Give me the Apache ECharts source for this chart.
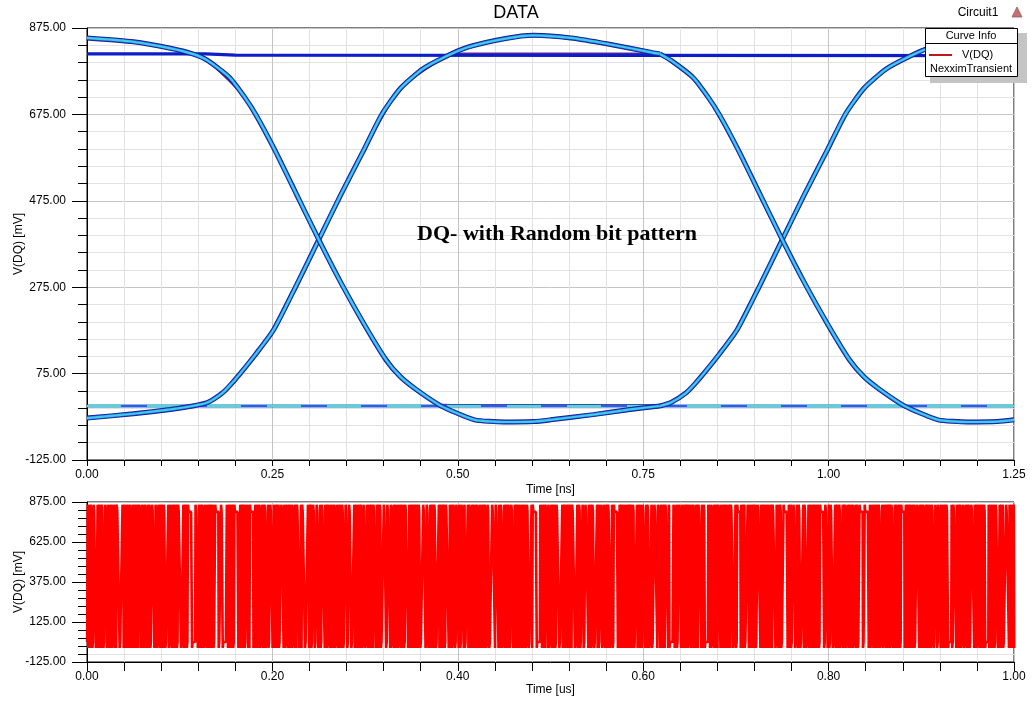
<!DOCTYPE html>
<html>
<head>
<meta charset="utf-8">
<script src="https://cdn.jsdelivr.net/npm/echarts@6/dist/echarts.min.js"></script>
<style>
html,body{margin:0;padding:0;background:#fff;}
#chart{width:1036px;height:703px;}
</style>
</head>
<body>
<div id="chart"></div>
<script>
// ---------------- DATA ----------------
// Eye diagram traces: [time ns, V(DQ) mV]
const highFlat = [[0, 815], [0.16, 815], [0.2, 812], [1.25, 811]];
const lowFlat = [[0, 0], [1.25, 0]];
const rise1 = [[0, -28], [0.0625, -18], [0.1125, -8], [0.1425, 0], [0.1625, 8], [0.1825, 30], [0.1935, 49], [0.2065, 75], [0.2275, 120], [0.2515, 176], [0.2825, 280], [0.3125, 385], [0.3425, 490], [0.3725, 590], [0.3975, 675], [0.4225, 735], [0.4525, 780], [0.4825, 808], [0.5125, 830], [0.5625, 850], [0.6025, 858], [0.6525, 852], [0.7025, 838], [0.7625, 818], [0.7725, 815]];
const fall1 = [[0, 852], [0.0625, 843], [0.1125, 828], [0.1425, 815], [0.1625, 800], [0.1925, 760], [0.2125, 715], [0.2275, 675], [0.2525, 595], [0.2825, 490], [0.3125, 385], [0.3425, 285], [0.3735, 190], [0.4035, 106], [0.4225, 68], [0.4425, 40], [0.4725, 5], [0.4925, -12], [0.5225, -32], [0.5625, -37], [0.6025, -36], [0.625, -32], [0.6825, -20], [0.7325, -8], [0.7725, 0]];
const rise1Flat = [[0.1425, 0], [0.1625, 8], [0.1825, 30], [0.2065, 75], [0.2515, 176], [0.3125, 385], [0.3725, 590], [0.4225, 735], [0.4825, 808], [0.5025, 816], [0.7725, 816]];
const fall1Flat = [[0.1425, 815], [0.1625, 800], [0.2125, 715], [0.2525, 595], [0.3125, 385], [0.3735, 190], [0.4225, 68], [0.4725, 5], [0.4925, 2], [0.7725, 2]];
const rise2 = [[0.7725, 0], [0.7875, 8], [0.8075, 30], [0.8185, 49], [0.8315, 75], [0.8525, 120], [0.8765, 176], [0.9075, 280], [0.9375, 385], [0.9675, 490], [0.9975, 590], [1.0225, 675], [1.0475, 735], [1.0775, 780], [1.1075, 808], [1.1375, 830], [1.1875, 850], [1.2275, 858], [1.25, 856]];
const fall2 = [[0.7725, 815], [0.7875, 800], [0.8175, 760], [0.8375, 715], [0.8525, 675], [0.8775, 595], [0.9075, 490], [0.9375, 385], [0.9675, 285], [0.9985, 190], [1.0285, 106], [1.0475, 68], [1.0675, 40], [1.0975, 5], [1.1175, -12], [1.1475, -32], [1.1875, -37], [1.2275, -36], [1.25, -32]];

// Random bit pattern of the transient (hex, 4 bits per digit), bit period in us
const bitPeriodUs = 0.000625;
const bitHex = [
  "4b9e2d71c8 a35f06e9b1 4d7a2c58f3 1b6e09d4a7 c253f81e6b",
  "9d2a47e1c0 6b53f8a91d 7e24c6b08f 35a1e9d742 bc5f06a38e",
  "27d4e9b1a6 c38f05d2e7 194bca60f3 e85d1b27c9 4a6e0f38b5",
  "c16a9f24e7 b3d058a2e6 4b9c1f7d30 a58e2b64d9 c17f03a5e8",
  "5b3e0a94d7 c2618fb4e0 a39d5c27f1 6e8ab304d9 e5c21f7a6b",
  "e80c47b2a9 d315f6c0e8 4b7a2d95e1 3f6a0c8b47 d2e915f3ac",
  "3f9a1c6e0b 85d24a7f3c 9e16b0a85d 42c7e3f91a 6b08d54e2c",
  "a7e52c90f4 b16d38e7a2 5c09f4b18d 63ea752c09 b4f1683ed9",
  "1c7e4a92d5 b08f63e1a4"
];
// Signal levels (mV) seen in the eye
const highSteady = 813, highPeak = 858, highAfterPeak = 845;
const lowSteady = 0, lowPeak = -37, lowAfterPeak = -33;

// Tick labels
const topXTicks = ["0.00", "0.25", "0.50", "0.75", "1.00", "1.25"];
const topYTicks = ["-125.00", "75.00", "275.00", "475.00", "675.00", "875.00"];
const botXTicks = ["0.00", "0.20", "0.40", "0.60", "0.80", "1.00"];
const botYTicks = ["-125.00", "125.00", "375.00", "625.00", "875.00"];

// ---------------- RENDER ----------------
const Y_SHIFT = 125; // axis runs 0..1000 internally, labelled -125..875
const shift = arr => arr.map(([t, v]) => [t, v + Y_SHIFT]);

const allBits = bitHex.join('').replace(/\s/g, '').split('')
  .flatMap(h => parseInt(h, 16).toString(2).padStart(4, '0').split('').map(Number));
const bits = allBits.slice(0, Math.ceil(1 / bitPeriodUs) + 1);
const wave = [];
bits.forEach((b, i) => {
  const p = i > 0 ? bits[i - 1] : b;
  const t0 = i * bitPeriodUs;
  const first = b ? (p ? highSteady : highPeak) : (p ? lowPeak : lowSteady);
  const second = b ? (p ? highSteady : highAfterPeak) : (p ? lowAfterPeak : lowSteady);
  wave.push([t0 + 0.3 * bitPeriodUs, first + Y_SHIFT], [t0 + 0.7 * bitPeriodUs, second + Y_SHIFT]);
});

const FONT = '"Liberation Sans", Arial, sans-serif';
const series = [];
function addLine(data, color, width, extra) {
  series.push(Object.assign({
    type: 'line', xAxisIndex: 0, yAxisIndex: 0, data: shift(data),
    showSymbol: false, symbol: 'none', silent: true, animation: false,
    smooth: 0.2,
    lineStyle: { color: color, width: width }
  }, extra || {}));
}
// purple flat-ending traces underneath
addLine(rise1Flat, '#5a2a9c', 2.2);
addLine(fall1Flat, '#5a2a9c', 2.2);
// flat levels
addLine(lowFlat, '#2a62de', 3, { smooth: false });
addLine(lowFlat, '#46e0c8', 2.2, { smooth: false, lineStyle: { color: '#46e0c8', width: 2.2, type: [34, 26] } });
addLine(highFlat, '#0d1ec8', 3.2, { smooth: false });
// transitions, layered colours
[rise1, fall1, rise2, fall2].forEach(tr => {
  addLine(tr, '#0f1a86', 5);
  addLine(tr, '#2350d8', 3.6);
  addLine(tr, '#3fcce8', 2.2);
});
// bottom transient
series.push({
  type: 'line', xAxisIndex: 1, yAxisIndex: 1, data: wave, showSymbol: false, symbol: 'none',
  silent: true, lineStyle: { color: '#ff0000', width: 2.6, join: 'bevel' }, clip: true
});

function xAxisCfg(grid, max, interval, labels, name, tickLen, nameGap) {
  return {
    type: 'value', gridIndex: grid, min: 0, max: max, interval: interval,
    name: name, nameLocation: 'middle', nameGap: nameGap, nameMoveOverlap: false,
    nameTextStyle: { fontFamily: FONT, fontSize: 12, color: '#000' },
    axisLine: { show: true, onZero: false, lineStyle: { color: '#000', width: 1 } },
    axisTick: { show: true, length: tickLen, lineStyle: { color: '#000' } },
    minorTick: { show: true, splitNumber: 5, length: tickLen, lineStyle: { color: '#000' } },
    axisLabel: { fontFamily: FONT, fontSize: 12, color: '#000', margin: 9,
      formatter: v => labels[Math.round(v / interval)] },
    splitLine: { show: true, lineStyle: { color: '#c4c4c4', width: 1 } },
    minorSplitLine: { show: true, lineStyle: { color: '#e2e2e2', width: 1 } }
  };
}
function yAxisCfg(grid, interval, labels) {
  return {
    type: 'value', gridIndex: grid, min: 0, max: 1000, interval: interval,
    name: 'V(DQ) [mV]', nameLocation: 'middle', nameGap: 62, nameRotate: 90, nameMoveOverlap: false,
    nameTextStyle: { fontFamily: FONT, fontSize: 12, color: '#000' },
    axisLine: { show: true, onZero: false, lineStyle: { color: '#000', width: 1 } },
    axisTick: { show: true, length: 15, lineStyle: { color: '#000' } },
    minorTick: { show: true, splitNumber: 5, length: 9, lineStyle: { color: '#000' } },
    axisLabel: { fontFamily: FONT, fontSize: 12, color: '#000', margin: 21,
      formatter: v => labels[Math.round(v / interval)] },
    splitLine: { show: true, lineStyle: { color: '#c4c4c4', width: 1 } },
    minorSplitLine: { show: true, lineStyle: { color: '#e2e2e2', width: 1 } }
  };
}

const option = {
  animation: false,
  backgroundColor: '#ffffff',
  grid: [
    { left: 87, top: 28, width: 927, height: 432, outerBoundsMode: 'none', containLabel: false, show: true, borderColor: '#000', borderWidth: 1, backgroundColor: 'rgba(0,0,0,0)' },
    { left: 87, top: 502, width: 927, height: 160, outerBoundsMode: 'none', containLabel: false, show: true, borderColor: '#000', borderWidth: 1, backgroundColor: 'rgba(0,0,0,0)' }
  ],
  xAxis: [
    xAxisCfg(0, 1.25, 0.25, topXTicks, 'Time [ns]', 6, 24),
    xAxisCfg(1, 1, 0.2, botXTicks, 'Time [us]', 9, 22)
  ],
  yAxis: [
    yAxisCfg(0, 200, topYTicks),
    yAxisCfg(1, 250, botYTicks)
  ],
  series: series,
  graphic: [
    { type: 'text', x: 516, y: 13, z: 100, style: { text: 'DATA', fontFamily: FONT, fontSize: 18, fill: '#000', align: 'center', verticalAlign: 'middle' } },
    { type: 'text', x: 978, y: 13, z: 100, style: { text: 'Circuit1', fontFamily: FONT, fontSize: 12, fill: '#000', align: 'center', verticalAlign: 'middle' } },
    { type: 'polygon', z: 100, shape: { points: [[1017, 7], [1012, 17], [1022, 17]] }, style: { fill: '#c87070', stroke: '#906060', lineWidth: 0.8 } },
    { type: 'text', x: 557, y: 234, z: 100, style: { text: 'DQ- with Random bit pattern', fontFamily: '"Liberation Serif", "Times New Roman", serif', fontWeight: 'bold', fontSize: 22, fill: '#000', align: 'center', verticalAlign: 'middle' } },
    // legend box
    { type: 'rect', z: 100, shape: { x: 930, y: 33, width: 97, height: 50 }, style: { fill: '#c4c4c4' } },
    { type: 'rect', z: 101, shape: { x: 925.5, y: 28.5, width: 92, height: 48 }, style: { fill: '#fff', stroke: '#000', lineWidth: 1 } },
    { type: 'line', z: 102, shape: { x1: 925.5, y1: 43.5, x2: 1017.5, y2: 43.5 }, style: { stroke: '#000', lineWidth: 1 } },
    { type: 'text', x: 971, y: 36, z: 102, style: { text: 'Curve Info', fontFamily: FONT, fontSize: 11, fill: '#000', align: 'center', verticalAlign: 'middle' } },
    { type: 'line', z: 102, shape: { x1: 929, y1: 55, x2: 952, y2: 55 }, style: { stroke: '#c01818', lineWidth: 2 } },
    { type: 'text', x: 962, y: 55, z: 102, style: { text: 'V(DQ)', fontFamily: FONT, fontSize: 11, fill: '#000', align: 'left', verticalAlign: 'middle' } },
    { type: 'text', x: 971, y: 69, z: 102, style: { text: 'NexximTransient', fontFamily: FONT, fontSize: 11, fill: '#000', align: 'center', verticalAlign: 'middle' } }
  ]
};

const chart = echarts.init(document.getElementById('chart'), null, { renderer: 'canvas' });
chart.setOption(option);
</script>
</body>
</html>
